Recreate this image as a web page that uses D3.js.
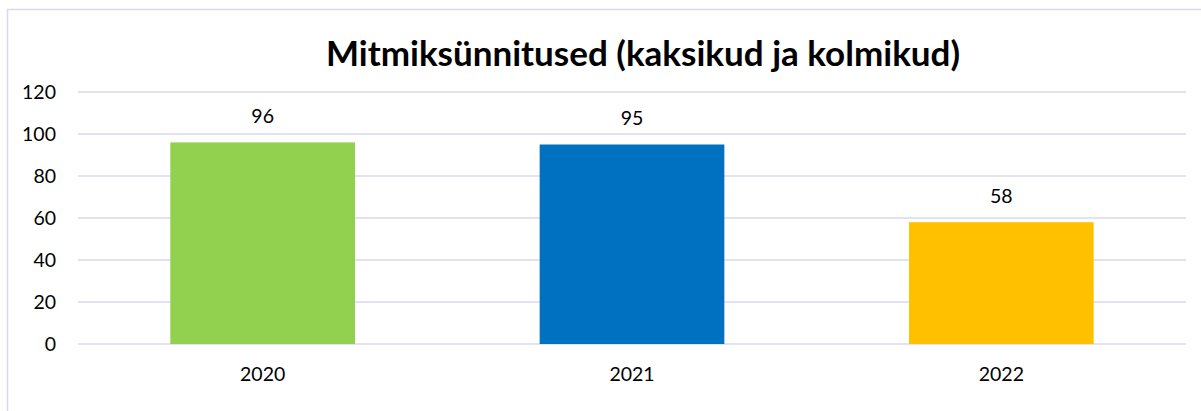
<!DOCTYPE html>
<html lang="et">
<head>
<meta charset="utf-8">
<script src="https://d3js.org/d3.v7.min.js"></script>
<style>
  body { margin: 0; background: #fff; }
  text { font-family: Lato, "Open Sans", sans-serif; fill: #000; }
</style>
</head>
<body>
<svg width="1201" height="411"></svg>
<script>
  var years = ["2020", "2021", "2022"];
  var births = [96, 95, 58];
  var barColors = ["#92d050", "#0070c0", "#ffc000"];
  var yTicks = [0, 20, 40, 60, 80, 100, 120];
  var title = "Mitmiksünnitused (kaksikud ja kolmikud)";

  var svg = d3.select("svg");

  // chart frame
  svg.append("rect")
    .attr("x", 7.5).attr("y", 9.5)
    .attr("width", 1200).attr("height", 420)
    .attr("fill", "none")
    .attr("stroke", "#d9d9ec")
    .attr("stroke-width", 1.5);

  svg.append("text")
    .attr("x", 643).attr("y", 66)
    .attr("text-anchor", "middle")
    .attr("font-size", "35px")
    .attr("font-weight", "bold")
    .text(title);

  var plotL = 78, plotR = 1186, plotT = 92, plotB = 344;

  var x = d3.scaleBand().domain(years).range([plotL, plotR])
    .paddingInner(0.5).paddingOuter(0.25);
  var y = d3.scaleLinear().domain([0, 120]).range([plotB, plotT]);

  // gridlines
  svg.append("g").selectAll("line")
    .data(yTicks)
    .enter().append("line")
    .attr("x1", plotL).attr("x2", plotR)
    .attr("y1", function (d) { return y(d); })
    .attr("y2", function (d) { return y(d); })
    .attr("stroke", "#d9d9ec")
    .attr("stroke-width", 1.5);

  // y labels
  svg.append("g")
    .attr("transform", "translate(" + (plotL - 22) + ",0)")
    .call(d3.axisLeft(y).tickValues(yTicks).tickSize(0).tickPadding(0))
    .call(function (g) { g.select(".domain").remove(); })
    .selectAll("text")
    .attr("font-size", "19.5px")
    .attr("font-family", "Lato, sans-serif")
    .attr("fill", "#000");

  // bars
  svg.append("g").selectAll("rect")
    .data(years)
    .enter().append("rect")
    .attr("x", function (d) { return x(d); })
    .attr("y", function (d, i) { return y(births[i]); })
    .attr("width", x.bandwidth())
    .attr("height", function (d, i) { return y(0) - y(births[i]); })
    .attr("fill", function (d, i) { return barColors[i]; });

  // value labels
  svg.append("g").selectAll("text")
    .data(years)
    .enter().append("text")
    .attr("x", function (d) { return x(d) + x.bandwidth() / 2; })
    .attr("y", function (d, i) { return y(births[i]) - 26; })
    .attr("dy", "0.35em")
    .attr("text-anchor", "middle")
    .attr("font-size", "19.5px")
    .text(function (d, i) { return births[i]; });

  // x labels
  svg.append("g")
    .attr("transform", "translate(0," + (plotB + 30) + ")")
    .call(d3.axisBottom(x).tickSize(0).tickPadding(0))
    .call(function (g) { g.select(".domain").remove(); })
    .selectAll("text")
    .attr("font-size", "19.5px")
    .attr("font-family", "Lato, sans-serif")
    .attr("fill", "#000")
    .attr("dy", "0.35em");
</script>
</body>
</html>
